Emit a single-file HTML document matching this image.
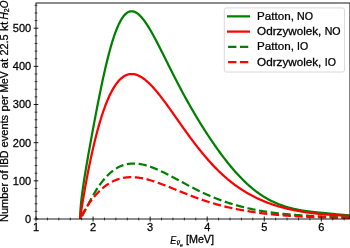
<!DOCTYPE html>
<html><head><meta charset="utf-8"><style>
html,body{margin:0;padding:0;background:#fff;overflow:hidden;}
svg{display:block;will-change:transform;}
text{font-family:"Liberation Sans",sans-serif;font-size:10.2px;fill:#000;stroke:#000;stroke-width:0.25px;}
</style></head><body>
<svg width="350" height="248" viewBox="0 0 350 248">
<rect width="350" height="248" fill="#fff"/>
<defs><clipPath id="ax"><rect x="36.0" y="3.0" width="313.95" height="216.0"/></clipPath></defs>
<g clip-path="url(#ax)" fill="none" stroke-width="2.24" stroke-linejoin="round">
<path d="M80.06,219.00 80.24,213.17 80.43,210.21 80.61,207.80 80.79,205.69 80.97,203.77 81.16,201.99 81.34,200.30 81.52,198.70 81.70,197.16 81.89,195.68 82.07,194.25 82.25,192.85 82.43,191.49 82.62,190.16 82.80,188.86 82.98,187.58 83.16,186.32 83.35,185.08 83.53,183.85 83.71,182.65 83.89,181.45 84.08,180.27 84.26,179.10 84.44,177.95 84.63,176.80 84.81,175.66 84.99,174.53 85.17,173.41 85.36,172.30 85.54,171.19 85.72,170.10 85.90,169.00 86.09,167.91 86.27,166.83 86.45,165.76 86.63,164.68 86.82,163.62 87.00,162.55 87.18,161.49 87.36,160.44 88.31,154.99 89.27,149.63 90.22,144.32 91.17,139.08 92.12,133.88 93.07,128.73 94.02,123.63 94.97,118.59 95.92,113.59 96.87,108.66 97.82,103.79 98.78,98.98 99.73,94.26 100.68,89.61 101.63,85.05 102.58,80.59 103.53,76.22 104.48,71.96 105.43,67.82 106.38,63.79 107.34,59.89 108.29,56.12 109.24,52.48 110.19,48.99 111.14,45.63 112.09,42.43 113.04,39.38 113.99,36.48 114.94,33.73 115.89,31.15 116.84,28.73 117.80,26.46 118.75,24.36 119.70,22.43 120.65,20.65 121.60,19.03 122.55,17.57 123.50,16.27 124.45,15.13 125.40,14.14 126.35,13.30 127.31,12.61 128.26,12.07 129.21,11.66 130.16,11.39 131.11,11.26 132.06,11.26 133.01,11.38 133.96,11.62 134.91,11.98 135.87,12.45 136.82,13.02 137.77,13.70 138.72,14.48 139.67,15.35 140.62,16.31 141.57,17.35 142.52,18.47 143.47,19.66 144.42,20.93 145.38,22.26 146.33,23.65 147.28,25.09 148.23,26.59 149.18,28.14 150.13,29.74 151.08,31.37 152.03,33.05 152.98,34.75 153.93,36.49 154.88,38.26 155.84,40.05 156.79,41.87 157.74,43.70 158.69,45.55 159.64,47.41 160.59,49.29 161.54,51.17 162.49,53.07 163.44,54.97 164.39,56.87 165.35,58.78 166.30,60.68 167.25,62.59 168.20,64.49 169.15,66.39 170.10,68.29 171.05,70.18 172.00,72.06 172.95,73.94 173.91,75.81 174.86,77.67 175.81,79.52 176.76,81.36 177.71,83.20 178.66,85.02 179.61,86.83 180.56,88.63 181.51,90.41 182.46,92.19 183.41,93.95 184.37,95.70 185.32,97.44 186.27,99.16 187.22,100.88 188.17,102.58 189.12,104.27 190.07,105.94 191.02,107.61 191.97,109.26 192.93,110.90 193.88,112.52 194.83,114.14 195.78,115.74 196.73,117.33 197.68,118.90 198.63,120.47 199.58,122.02 200.53,123.57 201.48,125.10 202.44,126.62 203.39,128.12 204.34,129.62 205.29,131.10 206.24,132.58 207.19,134.04 208.14,135.49 209.09,136.93 210.04,138.35 210.99,139.77 211.94,141.17 212.90,142.56 213.85,143.95 214.80,145.31 215.75,146.67 216.70,148.02 217.65,149.35 218.60,150.67 219.55,151.98 220.50,153.28 221.45,154.56 222.41,155.83 223.36,157.09 224.31,158.33 225.26,159.57 226.21,160.78 227.16,161.99 228.11,163.18 229.06,164.36 230.01,165.52 230.96,166.67 231.92,167.80 232.87,168.92 233.82,170.03 234.77,171.12 235.72,172.19 236.67,173.25 237.62,174.30 238.57,175.32 239.52,176.34 240.47,177.33 241.43,178.31 242.38,179.28 243.33,180.22 244.28,181.16 245.23,182.07 246.18,182.97 247.13,183.85 248.08,184.71 249.03,185.56 249.99,186.39 250.94,187.21 251.89,188.01 252.84,188.80 253.79,189.57 254.74,190.32 255.69,191.06 256.64,191.78 257.59,192.48 258.54,193.17 259.50,193.84 260.45,194.49 261.40,195.13 262.35,195.75 263.30,196.36 264.25,196.95 265.20,197.52 266.15,198.08 267.10,198.63 268.05,199.16 269.00,199.67 269.96,200.18 270.91,200.66 271.86,201.14 272.81,201.60 273.76,202.04 274.71,202.48 275.66,202.90 276.61,203.31 277.56,203.70 278.51,204.09 279.47,204.46 280.42,204.82 281.37,205.16 282.32,205.50 283.27,205.83 284.22,206.14 285.17,206.45 286.12,206.75 287.07,207.03 288.02,207.31 288.98,207.57 289.93,207.83 290.88,208.08 291.83,208.32 292.78,208.56 293.73,208.78 294.68,209.00 295.63,209.21 296.58,209.41 297.53,209.61 298.49,209.80 299.44,209.98 300.39,210.16 301.34,210.33 302.29,210.49 303.24,210.65 304.19,210.81 305.14,210.95 306.09,211.10 307.05,211.23 308.00,211.35 308.95,211.48 309.90,211.60 310.85,211.71 311.80,211.82 312.75,211.93 313.70,212.03 314.65,212.13 315.60,212.23 316.55,212.33 317.51,212.43 318.46,212.52 319.41,212.61 320.36,212.70 321.31,212.79 322.26,212.87 323.21,212.96 324.16,213.05 325.11,213.14 326.07,213.22 327.02,213.31 327.97,213.40 328.92,213.49 329.87,213.58 330.82,213.67 331.77,213.76 332.72,213.85 333.67,213.94 334.62,214.04 335.57,214.14 336.53,214.24 337.48,214.35 338.43,214.45 339.38,214.57 340.33,214.66 341.28,214.73 342.23,214.81 343.18,214.88 344.13,214.96 345.08,215.05 346.04,215.13 346.99,215.22 347.94,215.32 348.89,215.41 349.84,215.55 350.79,215.70 351.74,215.86 352.69,216.01" stroke="#008000" stroke-linecap="square"/>
<path d="M80.06,219.00 80.24,217.64 80.43,216.35 80.61,215.10 80.79,213.87 80.97,212.65 81.16,211.46 81.34,210.27 81.52,209.09 81.70,207.93 81.89,206.77 82.07,205.63 82.25,204.49 82.43,203.36 82.62,202.24 82.80,201.13 82.98,200.03 83.16,198.93 83.35,197.84 83.53,196.76 83.71,195.68 83.89,194.61 84.08,193.55 84.26,192.49 84.44,191.44 84.63,190.40 84.81,189.36 84.99,188.33 85.17,187.31 85.36,186.29 85.54,185.28 85.72,184.27 85.90,183.27 86.09,182.27 86.27,181.28 86.45,180.30 86.63,179.32 86.82,178.35 87.00,177.38 87.18,176.42 87.36,175.47 88.31,170.58 89.27,165.84 90.22,161.24 91.17,156.78 92.12,152.45 93.07,148.27 94.02,144.22 94.97,140.30 95.92,136.51 96.87,132.85 97.82,129.31 98.78,125.91 99.73,122.62 100.68,119.46 101.63,116.43 102.58,113.51 103.53,110.71 104.48,108.03 105.43,105.46 106.38,103.01 107.34,100.68 108.29,98.45 109.24,96.33 110.19,94.32 111.14,92.42 112.09,90.63 113.04,88.93 113.99,87.34 114.94,85.85 115.89,84.45 116.84,83.15 117.80,81.95 118.75,80.84 119.70,79.82 120.65,78.89 121.60,78.05 122.55,77.29 123.50,76.62 124.45,76.02 125.40,75.51 126.35,75.08 127.31,74.72 128.26,74.44 129.21,74.23 130.16,74.09 131.11,74.02 132.06,74.02 133.01,74.08 133.96,74.20 134.91,74.39 135.87,74.64 136.82,74.94 137.77,75.30 138.72,75.71 139.67,76.18 140.62,76.70 141.57,77.27 142.52,77.88 143.47,78.54 144.42,79.24 145.38,79.99 146.33,80.78 147.28,81.60 148.23,82.46 149.18,83.36 150.13,84.29 151.08,85.26 152.03,86.25 152.98,87.28 153.93,88.33 154.88,89.41 155.84,90.51 156.79,91.64 157.74,92.79 158.69,93.97 159.64,95.16 160.59,96.37 161.54,97.59 162.49,98.84 163.44,100.10 164.39,101.37 165.35,102.65 166.30,103.95 167.25,105.25 168.20,106.57 169.15,107.89 170.10,109.22 171.05,110.56 172.00,111.90 172.95,113.24 173.91,114.59 174.86,115.94 175.81,117.29 176.76,118.65 177.71,120.00 178.66,121.36 179.61,122.71 180.56,124.06 181.51,125.40 182.46,126.75 183.41,128.09 184.37,129.42 185.32,130.75 186.27,132.07 187.22,133.39 188.17,134.70 189.12,136.00 190.07,137.30 191.02,138.58 191.97,139.86 192.93,141.13 193.88,142.39 194.83,143.64 195.78,144.88 196.73,146.10 197.68,147.32 198.63,148.53 199.58,149.72 200.53,150.91 201.48,152.08 202.44,153.24 203.39,154.38 204.34,155.52 205.29,156.64 206.24,157.75 207.19,158.85 208.14,159.93 209.09,161.00 210.04,162.05 210.99,163.10 211.94,164.13 212.90,165.14 213.85,166.15 214.80,167.14 215.75,168.11 216.70,169.07 217.65,170.02 218.60,170.96 219.55,171.88 220.50,172.78 221.45,173.68 222.41,174.56 223.36,175.42 224.31,176.28 225.26,177.12 226.21,177.94 227.16,178.76 228.11,179.56 229.06,180.34 230.01,181.12 230.96,181.88 231.92,182.62 232.87,183.36 233.82,184.08 234.77,184.79 235.72,185.49 236.67,186.17 237.62,186.85 238.57,187.51 239.52,188.16 240.47,188.79 241.43,189.42 242.38,190.03 243.33,190.63 244.28,191.23 245.23,191.81 246.18,192.37 247.13,192.93 248.08,193.48 249.03,194.02 249.99,194.54 250.94,195.06 251.89,195.57 252.84,196.07 253.79,196.56 254.74,197.05 255.69,197.52 256.64,197.98 257.59,198.43 258.54,198.87 259.50,199.31 260.45,199.74 261.40,200.15 262.35,200.56 263.30,200.96 264.25,201.35 265.20,201.74 266.15,202.11 267.10,202.48 268.05,202.84 269.00,203.19 269.96,203.54 270.91,203.87 271.86,204.21 272.81,204.53 273.76,204.85 274.71,205.16 275.66,205.46 276.61,205.75 277.56,206.05 278.51,206.33 279.47,206.61 280.42,206.88 281.37,207.14 282.32,207.40 283.27,207.66 284.22,207.91 285.17,208.15 286.12,208.39 287.07,208.62 288.02,208.85 288.98,209.07 289.93,209.29 290.88,209.50 291.83,209.71 292.78,209.91 293.73,210.10 294.68,210.30 295.63,210.49 296.58,210.67 297.53,210.85 298.49,211.02 299.44,211.20 300.39,211.36 301.34,211.53 302.29,211.69 303.24,211.85 304.19,212.00 305.14,212.15 306.09,212.29 307.05,212.43 308.00,212.56 308.95,212.68 309.90,212.81 310.85,212.93 311.80,213.04 312.75,213.16 313.70,213.27 314.65,213.38 315.60,213.49 316.55,213.59 317.51,213.69 318.46,213.79 319.41,213.88 320.36,213.98 321.31,214.07 322.26,214.16 323.21,214.24 324.16,214.33 325.11,214.41 326.07,214.49 327.02,214.57 327.97,214.64 328.92,214.72 329.87,214.79 330.82,214.86 331.77,214.93 332.72,215.00 333.67,215.07 334.62,215.14 335.57,215.20 336.53,215.26 337.48,215.32 338.43,215.38 339.38,215.44 340.33,215.50 341.28,215.55 342.23,215.60 343.18,215.66 344.13,215.71 345.08,215.76 346.04,215.80 346.99,215.85 347.94,215.90 348.89,215.94 349.84,215.99 350.79,216.03 351.74,216.08 352.69,216.12" stroke="#ff0000" stroke-linecap="square"/>
<path d="M80.06,219.00 80.24,218.84 80.43,218.63 80.61,218.39 80.79,218.13 80.97,217.86 81.16,217.58 81.34,217.29 81.52,216.99 81.70,216.68 81.89,216.36 82.07,216.05 82.25,215.72 82.43,215.40 82.62,215.07 82.80,214.73 82.98,214.40 83.16,214.06 83.35,213.71 83.53,213.37 83.71,213.03 83.89,212.68 84.08,212.33 84.26,211.98 84.44,211.63 84.63,211.28 84.81,210.93 84.99,210.57 85.17,210.22 85.36,209.86 85.54,209.51 85.72,209.16 85.90,208.80 86.09,208.45 86.27,208.09 86.45,207.74 86.63,207.38 86.82,207.03 87.00,206.68 87.18,206.32 87.36,205.97 88.31,204.15 89.27,202.34 90.22,200.57 91.17,198.82 92.12,197.12 93.07,195.44 94.02,193.81 94.97,192.22 95.92,190.68 96.87,189.18 97.82,187.72 98.78,186.31 99.73,184.95 100.68,183.63 101.63,182.36 102.58,181.13 103.53,179.95 104.48,178.82 105.43,177.73 106.38,176.69 107.34,175.69 108.29,174.74 109.24,173.83 110.19,172.97 111.14,172.15 112.09,171.37 113.04,170.63 113.99,169.94 114.94,169.28 115.89,168.66 116.84,168.09 117.80,167.55 118.75,167.05 119.70,166.58 120.65,166.15 121.60,165.76 122.55,165.40 123.50,165.07 124.45,164.78 125.40,164.52 126.35,164.29 127.31,164.10 128.26,163.93 129.21,163.79 130.16,163.68 131.11,163.60 132.06,163.54 133.01,163.51 133.96,163.51 134.91,163.53 135.87,163.58 136.82,163.64 137.77,163.74 138.72,163.85 139.67,163.98 140.62,164.14 141.57,164.31 142.52,164.51 143.47,164.72 144.42,164.95 145.38,165.20 146.33,165.46 147.28,165.74 148.23,166.03 149.18,166.34 150.13,166.67 151.08,167.00 152.03,167.35 152.98,167.72 153.93,168.09 154.88,168.48 155.84,168.87 156.79,169.28 157.74,169.69 158.69,170.12 159.64,170.55 160.59,170.99 161.54,171.44 162.49,171.89 163.44,172.36 164.39,172.82 165.35,173.30 166.30,173.78 167.25,174.26 168.20,174.75 169.15,175.24 170.10,175.74 171.05,176.24 172.00,176.74 172.95,177.24 173.91,177.75 174.86,178.26 175.81,178.77 176.76,179.28 177.71,179.79 178.66,180.30 179.61,180.81 180.56,181.32 181.51,181.83 182.46,182.35 183.41,182.85 184.37,183.36 185.32,183.87 186.27,184.38 187.22,184.88 188.17,185.38 189.12,185.88 190.07,186.38 191.02,186.87 191.97,187.36 192.93,187.85 193.88,188.33 194.83,188.81 195.78,189.29 196.73,189.77 197.68,190.24 198.63,190.70 199.58,191.16 200.53,191.62 201.48,192.08 202.44,192.53 203.39,192.97 204.34,193.41 205.29,193.85 206.24,194.28 207.19,194.70 208.14,195.12 209.09,195.54 210.04,195.95 210.99,196.36 211.94,196.76 212.90,197.15 213.85,197.54 214.80,197.93 215.75,198.31 216.70,198.69 217.65,199.06 218.60,199.42 219.55,199.78 220.50,200.13 221.45,200.48 222.41,200.83 223.36,201.16 224.31,201.50 225.26,201.83 226.21,202.15 227.16,202.47 228.11,202.78 229.06,203.09 230.01,203.39 230.96,203.68 231.92,203.98 232.87,204.26 233.82,204.54 234.77,204.82 235.72,205.09 236.67,205.36 237.62,205.62 238.57,205.88 239.52,206.13 240.47,206.39 241.43,206.64 242.38,206.88 243.33,207.12 244.28,207.36 245.23,207.59 246.18,207.82 247.13,208.04 248.08,208.26 249.03,208.48 249.99,208.69 250.94,208.90 251.89,209.10 252.84,209.30 253.79,209.49 254.74,209.69 255.69,209.87 256.64,210.06 257.59,210.24 258.54,210.41 259.50,210.59 260.45,210.75 261.40,210.92 262.35,211.08 263.30,211.24 264.25,211.40 265.20,211.55 266.15,211.70 267.10,211.84 268.05,211.98 269.00,212.12 269.96,212.26 270.91,212.39 271.86,212.52 272.81,212.65 273.76,212.78 274.71,212.90 275.66,213.02 276.61,213.14 277.56,213.25 278.51,213.36 279.47,213.47 280.42,213.58 281.37,213.68 282.32,213.78 283.27,213.87 284.22,213.97 285.17,214.06 286.12,214.15 287.07,214.23 288.02,214.32 288.98,214.40 289.93,214.48 290.88,214.56 291.83,214.64 292.78,214.71 293.73,214.79 294.68,214.86 295.63,214.93 296.58,215.00 297.53,215.06 298.49,215.13 299.44,215.19 300.39,215.25 301.34,215.31 302.29,215.37 303.24,215.42 304.19,215.48 305.14,215.53 306.09,215.58 307.05,215.65 308.00,215.71 308.95,215.78 309.90,215.84 310.85,215.90 311.80,215.96 312.75,216.02 313.70,216.07 314.65,216.13 315.60,216.18 316.55,216.24 317.51,216.29 318.46,216.34 319.41,216.39 320.36,216.44 321.31,216.49 322.26,216.54 323.21,216.59 324.16,216.64 325.11,216.68 326.07,216.73 327.02,216.77 327.97,216.82 328.92,216.86 329.87,216.90 330.82,216.94 331.77,216.98 332.72,217.02 333.67,217.05 334.62,217.09 335.57,217.12 336.53,217.14 337.48,217.17 338.43,217.19 339.38,217.22 340.33,217.24 341.28,217.26 342.23,217.28 343.18,217.30 344.13,217.31 345.08,217.33 346.04,217.33 346.99,217.33 347.94,217.33 348.89,217.32 349.84,217.32 350.79,217.31 351.74,217.31 352.69,217.30" stroke="#008000" stroke-dasharray="8.25 3.55" stroke-dashoffset="-3.6" stroke-linecap="butt"/>
<path d="M80.06,219.00 80.24,218.55 80.43,218.14 80.61,217.75 80.79,217.37 80.97,216.99 81.16,216.63 81.34,216.26 81.52,215.91 81.70,215.56 81.89,215.21 82.07,214.87 82.25,214.53 82.43,214.19 82.62,213.85 82.80,213.52 82.98,213.20 83.16,212.87 83.35,212.55 83.53,212.23 83.71,211.91 83.89,211.59 84.08,211.28 84.26,210.97 84.44,210.66 84.63,210.36 84.81,210.05 84.99,209.75 85.17,209.45 85.36,209.15 85.54,208.86 85.72,208.56 85.90,208.27 86.09,207.98 86.27,207.69 86.45,207.41 86.63,207.12 86.82,206.84 87.00,206.56 87.18,206.28 87.36,206.00 88.31,204.59 89.27,203.21 90.22,201.89 91.17,200.60 92.12,199.36 93.07,198.16 94.02,197.00 94.97,195.88 95.92,194.79 96.87,193.75 97.82,192.74 98.78,191.77 99.73,190.83 100.68,189.93 101.63,189.07 102.58,188.24 103.53,187.45 104.48,186.69 105.43,185.96 106.38,185.26 107.34,184.60 108.29,183.97 109.24,183.38 110.19,182.81 111.14,182.27 112.09,181.77 113.04,181.29 113.99,180.84 114.94,180.42 115.89,180.03 116.84,179.67 117.80,179.33 118.75,179.02 119.70,178.74 120.65,178.48 121.60,178.25 122.55,178.04 123.50,177.86 124.45,177.69 125.40,177.56 126.35,177.44 127.31,177.34 128.26,177.27 129.21,177.22 130.16,177.19 131.11,177.17 132.06,177.18 133.01,177.21 133.96,177.25 134.91,177.31 135.87,177.39 136.82,177.48 137.77,177.59 138.72,177.71 139.67,177.85 140.62,178.01 141.57,178.18 142.52,178.36 143.47,178.55 144.42,178.76 145.38,178.98 146.33,179.21 147.28,179.45 148.23,179.70 149.18,179.96 150.13,180.23 151.08,180.51 152.03,180.80 152.98,181.10 153.93,181.40 154.88,181.72 155.84,182.04 156.79,182.36 157.74,182.69 158.69,183.03 159.64,183.37 160.59,183.72 161.54,184.08 162.49,184.43 163.44,184.79 164.39,185.16 165.35,185.53 166.30,185.90 167.25,186.27 168.20,186.65 169.15,187.03 170.10,187.41 171.05,187.79 172.00,188.17 172.95,188.56 173.91,188.94 174.86,189.33 175.81,189.71 176.76,190.10 177.71,190.48 178.66,190.87 179.61,191.25 180.56,191.64 181.51,192.02 182.46,192.40 183.41,192.78 184.37,193.16 185.32,193.54 186.27,193.91 187.22,194.29 188.17,194.66 189.12,195.02 190.07,195.39 191.02,195.76 191.97,196.12 192.93,196.47 193.88,196.83 194.83,197.18 195.78,197.53 196.73,197.88 197.68,198.22 198.63,198.56 199.58,198.90 200.53,199.23 201.48,199.56 202.44,199.89 203.39,200.21 204.34,200.53 205.29,200.85 206.24,201.16 207.19,201.47 208.14,201.77 209.09,202.07 210.04,202.37 210.99,202.66 211.94,202.95 212.90,203.24 213.85,203.52 214.80,203.79 215.75,204.07 216.70,204.34 217.65,204.60 218.60,204.86 219.55,205.12 220.50,205.38 221.45,205.63 222.41,205.87 223.36,206.11 224.31,206.35 225.26,206.59 226.21,206.82 227.16,207.05 228.11,207.27 229.06,207.49 230.01,207.70 230.96,207.92 231.92,208.13 232.87,208.33 233.82,208.53 234.77,208.73 235.72,208.93 236.67,209.12 237.62,209.30 238.57,209.49 239.52,209.67 240.47,209.85 241.43,210.03 242.38,210.21 243.33,210.39 244.28,210.56 245.23,210.73 246.18,210.89 247.13,211.06 248.08,211.22 249.03,211.37 249.99,211.53 250.94,211.68 251.89,211.83 252.84,211.97 253.79,212.11 254.74,212.25 255.69,212.39 256.64,212.53 257.59,212.66 258.54,212.79 259.50,212.92 260.45,213.04 261.40,213.16 262.35,213.28 263.30,213.40 264.25,213.52 265.20,213.63 266.15,213.74 267.10,213.85 268.05,213.95 269.00,214.06 269.96,214.16 270.91,214.26 271.86,214.36 272.81,214.46 273.76,214.55 274.71,214.64 275.66,214.73 276.61,214.82 277.56,214.91 278.51,214.99 279.47,215.08 280.42,215.16 281.37,215.24 282.32,215.31 283.27,215.39 284.22,215.46 285.17,215.53 286.12,215.60 287.07,215.67 288.02,215.74 288.98,215.80 289.93,215.87 290.88,215.93 291.83,215.99 292.78,216.05 293.73,216.11 294.68,216.17 295.63,216.23 296.58,216.28 297.53,216.34 298.49,216.39 299.44,216.44 300.39,216.49 301.34,216.53 302.29,216.58 303.24,216.62 304.19,216.66 305.14,216.70 306.09,216.74 307.05,216.78 308.00,216.82 308.95,216.86 309.90,216.89 310.85,216.93 311.80,216.96 312.75,217.00 313.70,217.03 314.65,217.06 315.60,217.09 316.55,217.12 317.51,217.15 318.46,217.18 319.41,217.21 320.36,217.24 321.31,217.26 322.26,217.29 323.21,217.31 324.16,217.34 325.11,217.36 326.07,217.38 327.02,217.41 327.97,217.43 328.92,217.45 329.87,217.47 330.82,217.49 331.77,217.51 332.72,217.53 333.67,217.55 334.62,217.56 335.57,217.58 336.53,217.60 337.48,217.61 338.43,217.63 339.38,217.64 340.33,217.66 341.28,217.67 342.23,217.68 343.18,217.70 344.13,217.71 345.08,217.72 346.04,217.73 346.99,217.74 347.94,217.75 348.89,217.76 349.84,217.77 350.79,217.78 351.74,217.79 352.69,217.79" stroke="#ff0000" stroke-dasharray="8.25 3.55" stroke-dashoffset="-2.6" stroke-linecap="butt"/>
</g>
<rect x="36.0" y="3.0" width="313.95" height="216.0" fill="none" stroke="#000" stroke-width="0.9"/>
<g stroke="#000" stroke-width="0.9"><line x1="33.70" y1="219.00" x2="38.30" y2="219.00" stroke-width="0.9"/><line x1="34.60" y1="211.37" x2="37.40" y2="211.37" stroke-width="0.7"/><line x1="34.60" y1="203.74" x2="37.40" y2="203.74" stroke-width="0.7"/><line x1="34.60" y1="196.10" x2="37.40" y2="196.10" stroke-width="0.7"/><line x1="34.60" y1="188.47" x2="37.40" y2="188.47" stroke-width="0.7"/><line x1="33.70" y1="180.84" x2="38.30" y2="180.84" stroke-width="0.9"/><line x1="34.60" y1="173.21" x2="37.40" y2="173.21" stroke-width="0.7"/><line x1="34.60" y1="165.58" x2="37.40" y2="165.58" stroke-width="0.7"/><line x1="34.60" y1="157.94" x2="37.40" y2="157.94" stroke-width="0.7"/><line x1="34.60" y1="150.31" x2="37.40" y2="150.31" stroke-width="0.7"/><line x1="33.70" y1="142.68" x2="38.30" y2="142.68" stroke-width="0.9"/><line x1="34.60" y1="135.05" x2="37.40" y2="135.05" stroke-width="0.7"/><line x1="34.60" y1="127.42" x2="37.40" y2="127.42" stroke-width="0.7"/><line x1="34.60" y1="119.78" x2="37.40" y2="119.78" stroke-width="0.7"/><line x1="34.60" y1="112.15" x2="37.40" y2="112.15" stroke-width="0.7"/><line x1="33.70" y1="104.52" x2="38.30" y2="104.52" stroke-width="0.9"/><line x1="34.60" y1="96.89" x2="37.40" y2="96.89" stroke-width="0.7"/><line x1="34.60" y1="89.26" x2="37.40" y2="89.26" stroke-width="0.7"/><line x1="34.60" y1="81.62" x2="37.40" y2="81.62" stroke-width="0.7"/><line x1="34.60" y1="73.99" x2="37.40" y2="73.99" stroke-width="0.7"/><line x1="33.70" y1="66.36" x2="38.30" y2="66.36" stroke-width="0.9"/><line x1="34.60" y1="58.73" x2="37.40" y2="58.73" stroke-width="0.7"/><line x1="34.60" y1="51.10" x2="37.40" y2="51.10" stroke-width="0.7"/><line x1="34.60" y1="43.46" x2="37.40" y2="43.46" stroke-width="0.7"/><line x1="34.60" y1="35.83" x2="37.40" y2="35.83" stroke-width="0.7"/><line x1="33.70" y1="28.20" x2="38.30" y2="28.20" stroke-width="0.9"/><line x1="34.60" y1="20.57" x2="37.40" y2="20.57" stroke-width="0.7"/><line x1="34.60" y1="12.94" x2="37.40" y2="12.94" stroke-width="0.7"/><line x1="34.60" y1="5.30" x2="37.40" y2="5.30" stroke-width="0.7"/><line x1="36.01" y1="216.5" x2="36.01" y2="221.50" stroke-width="0.9"/><line x1="47.42" y1="217.6" x2="47.42" y2="220.40" stroke-width="0.7"/><line x1="58.83" y1="217.6" x2="58.83" y2="220.40" stroke-width="0.7"/><line x1="70.25" y1="217.6" x2="70.25" y2="220.40" stroke-width="0.7"/><line x1="81.66" y1="217.6" x2="81.66" y2="220.40" stroke-width="0.7"/><line x1="93.07" y1="216.5" x2="93.07" y2="221.50" stroke-width="0.9"/><line x1="104.48" y1="217.6" x2="104.48" y2="220.40" stroke-width="0.7"/><line x1="115.89" y1="217.6" x2="115.89" y2="220.40" stroke-width="0.7"/><line x1="127.31" y1="217.6" x2="127.31" y2="220.40" stroke-width="0.7"/><line x1="138.72" y1="217.6" x2="138.72" y2="220.40" stroke-width="0.7"/><line x1="150.13" y1="216.5" x2="150.13" y2="221.50" stroke-width="0.9"/><line x1="161.54" y1="217.6" x2="161.54" y2="220.40" stroke-width="0.7"/><line x1="172.95" y1="217.6" x2="172.95" y2="220.40" stroke-width="0.7"/><line x1="184.37" y1="217.6" x2="184.37" y2="220.40" stroke-width="0.7"/><line x1="195.78" y1="217.6" x2="195.78" y2="220.40" stroke-width="0.7"/><line x1="207.19" y1="216.5" x2="207.19" y2="221.50" stroke-width="0.9"/><line x1="218.60" y1="217.6" x2="218.60" y2="220.40" stroke-width="0.7"/><line x1="230.01" y1="217.6" x2="230.01" y2="220.40" stroke-width="0.7"/><line x1="241.43" y1="217.6" x2="241.43" y2="220.40" stroke-width="0.7"/><line x1="252.84" y1="217.6" x2="252.84" y2="220.40" stroke-width="0.7"/><line x1="264.25" y1="216.5" x2="264.25" y2="221.50" stroke-width="0.9"/><line x1="275.66" y1="217.6" x2="275.66" y2="220.40" stroke-width="0.7"/><line x1="287.07" y1="217.6" x2="287.07" y2="220.40" stroke-width="0.7"/><line x1="298.49" y1="217.6" x2="298.49" y2="220.40" stroke-width="0.7"/><line x1="309.90" y1="217.6" x2="309.90" y2="220.40" stroke-width="0.7"/><line x1="321.31" y1="216.5" x2="321.31" y2="221.50" stroke-width="0.9"/><line x1="332.72" y1="217.6" x2="332.72" y2="220.40" stroke-width="0.7"/><line x1="344.13" y1="217.6" x2="344.13" y2="220.40" stroke-width="0.7"/></g>
<g><text transform="translate(31.2,222.80) scale(1.08,1)" text-anchor="end">0</text><text transform="translate(31.2,184.70) scale(1.08,1)" text-anchor="end">100</text><text transform="translate(31.2,146.80) scale(1.08,1)" text-anchor="end">200</text><text transform="translate(31.2,108.20) scale(1.08,1)" text-anchor="end">300</text><text transform="translate(31.2,70.20) scale(1.08,1)" text-anchor="end">400</text><text transform="translate(31.2,31.80) scale(1.08,1)" text-anchor="end">500</text></g>
<g><text transform="translate(36.01,231.0) scale(1.08,1)" text-anchor="middle">1</text><text transform="translate(93.07,231.0) scale(1.08,1)" text-anchor="middle">2</text><text transform="translate(150.13,231.0) scale(1.08,1)" text-anchor="middle">3</text><text transform="translate(207.19,231.0) scale(1.08,1)" text-anchor="middle">4</text><text transform="translate(264.25,231.0) scale(1.08,1)" text-anchor="middle">5</text><text transform="translate(321.31,231.0) scale(1.08,1)" text-anchor="middle">6</text></g>
<text transform="translate(8.4,222.04) rotate(-90) scale(1.104,1)" style="font-size:10px">Number</text><text transform="translate(8.4,179.91) rotate(-90) scale(1.140,1)" style="font-size:10px">of</text><text transform="translate(8.4,167.51) rotate(-90) scale(1.020,1)" style="font-size:10px">IBD</text><text transform="translate(8.4,147.41) rotate(-90) scale(1.106,1)" style="font-size:10px">events</text><text transform="translate(8.4,111.61) rotate(-90) scale(1.127,1)" style="font-size:10px">per</text><text transform="translate(8.4,92.52) rotate(-90) scale(1.022,1)" style="font-size:10px">MeV</text><text transform="translate(8.4,68.41) rotate(-90) scale(1.159,1)" style="font-size:10px">at</text><text transform="translate(8.4,55.54) rotate(-90) scale(1.089,1)" style="font-size:10px">22.5</text><text transform="translate(8.4,30.92) rotate(-90) scale(1.191,1)" style="font-size:10px">kt</text><text transform="translate(8.4,19.38) rotate(-90)" style="font-size:10px"><tspan font-style="italic">H</tspan><tspan style="font-size:7px" dy="0.8">2</tspan><tspan font-style="italic" dy="-0.8">O</tspan></text>
<text transform="translate(170.2,243.6) scale(0.88,1)" style="font-size:10.2px;font-style:italic">E</text>
<text x="176.4" y="245" style="font-size:7px;font-style:italic">ν</text>
<line x1="177.4" y1="240.6" x2="180.3" y2="240.6" stroke="#000" stroke-width="0.6"/>
<text x="179.75" y="246.5" style="font-size:5.5px;font-style:italic;stroke-width:0.15px">e</text>
<text transform="translate(185.9,243.2) scale(1.08,1)" style="font-size:10px">[MeV]</text>
<rect x="224.3" y="7.9" width="120.2" height="64.1" rx="2" ry="2" fill="#fff" fill-opacity="0.8" stroke="#cccccc" stroke-opacity="0.8" stroke-width="0.9"/>
<line x1="228.1" y1="16.35" x2="248.9" y2="16.35" stroke="#008000" stroke-width="2.24" stroke-linecap="square"/><text transform="translate(257.07,19.80) scale(1.139,1)" style="font-size:10.2px">Patton,</text><text transform="translate(297.09,19.80) scale(1.043,1)" style="font-size:10.2px">NO</text><line x1="228.1" y1="31.60" x2="248.9" y2="31.60" stroke="#ff0000" stroke-width="2.24" stroke-linecap="square"/><text transform="translate(257.04,35.05) scale(1.147,1)" style="font-size:10.2px">Odrzywolek,</text><text transform="translate(324.69,35.05) scale(1.043,1)" style="font-size:10.2px">NO</text><line x1="228.1" y1="46.85" x2="248.3" y2="46.85" stroke="#008000" stroke-width="2.24" stroke-dasharray="8.3 3.55"/><text transform="translate(257.07,50.30) scale(1.139,1)" style="font-size:10.2px">Patton,</text><text transform="translate(297.10,50.30) scale(1.035,1)" style="font-size:10.2px">IO</text><line x1="228.1" y1="62.10" x2="248.3" y2="62.10" stroke="#ff0000" stroke-width="2.24" stroke-dasharray="8.3 3.55"/><text transform="translate(257.04,65.55) scale(1.147,1)" style="font-size:10.2px">Odrzywolek,</text><text transform="translate(324.70,65.55) scale(1.035,1)" style="font-size:10.2px">IO</text>
</svg>
</body></html>
